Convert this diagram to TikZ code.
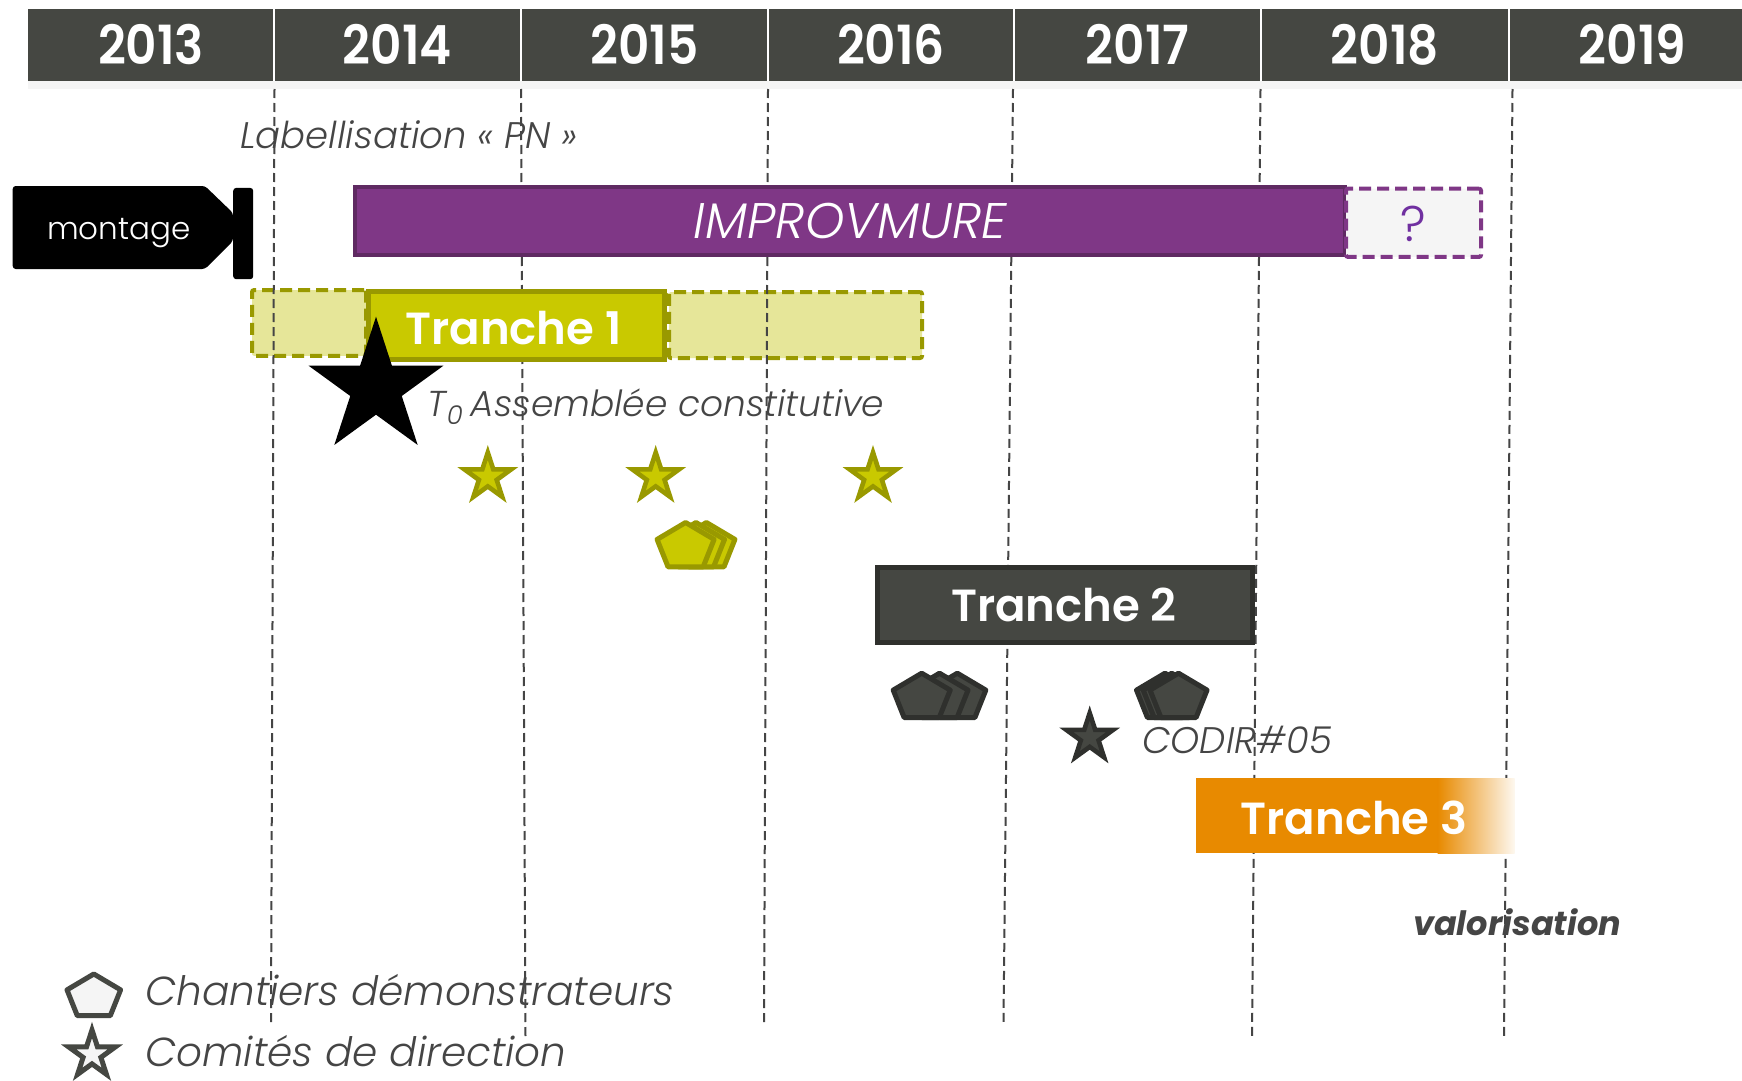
\documentclass[tikz,border=0pt]{standalone}
\usepackage{fontspec}
\setmainfont{Poppins}
\newfontfamily\plight{Poppins Light}
\newfontfamily\plightit{Poppins Light Italic}
\newfontfamily\psemi{Poppins SemiBold}
\newfontfamily\pboldit{Poppins Bold Italic}
\newfontfamily\yearfont{Poppins SemiBold}[FakeStretch=0.9]
\usetikzlibrary{shapes.geometric}
\definecolor{hdr}{HTML}{454742}
\definecolor{txt}{HTML}{454545}
\definecolor{olive}{HTML}{C9C900}
\definecolor{oliveD}{HTML}{999900}
\definecolor{oliveL}{HTML}{E6E699}
\definecolor{purp}{HTML}{7F3786}
\definecolor{purpD}{HTML}{5F2A62}
\definecolor{purpQ}{HTML}{7030A0}
\definecolor{darkF}{HTML}{454742}
\definecolor{darkD}{HTML}{2F302D}
\definecolor{orng}{HTML}{E88A00}
\definecolor{lgray}{HTML}{F5F5F5}
\newcommand\myfs[1]{\fontsize{#1}{#1}\selectfont}
\tikzset{
  gridline/.style={draw=txt, line width=2, dash pattern=on 9pt off 5pt},
  yearlbl/.style={text=white, font=\yearfont\myfs{54}, anchor=base, inner sep=0},
  gtext/.style={text=txt, font=\plightit\myfs{37}, anchor=base west, inner sep=0},
  trlbl/.style={text=white, font=\psemi\myfs{45}, anchor=base, inner sep=0},
  lightbox/.style={draw=oliveD, fill=oliveL, line width=4, dash pattern=on 12pt off 6pt, rounded corners=2, inner sep=0},
  cstar/.style={star, star points=5, star point ratio=2.618, inner sep=0, minimum size=49, line width=4.6},
  pics/pentagon/.style={code={\draw[pic actions] (0,-24.5) -- (28.5,-7.6) -- (17.6,19.8) -- (-17.6,19.8) -- (-28.5,-7.6) -- cycle;}},
  olivepent/.style={draw=oliveD, fill=olive, line width=5, line join=round},
  darkpent/.style={draw=darkD, fill=darkF, line width=5, line join=round}
}
\begin{document}
\begin{tikzpicture}[x=1pt,y=-1pt]
\useasboundingbox (0,0) rectangle (1742,1081);
\fill[white] (0,0) rectangle (1742,1081);

% header
\fill[hdr] (28,9) rectangle (1742,81);
\fill[lgray] (28,81) rectangle (1742,89);
\foreach \x in {274,521,768,1014,1261,1509} \draw[white, line width=2.5] (\x,9) -- (\x,81);
\node[yearlbl] (y2013) at (151,65) {2013};
\node[yearlbl] (y2014) at (397.5,65) {2014};
\node[yearlbl] (y2015) at (644.5,65) {2015};
\node[yearlbl] (y2016) at (891,65) {2016};
\node[yearlbl] (y2017) at (1137.5,65) {2017};
\node[yearlbl] (y2018) at (1385,65) {2018};
\node[yearlbl] (y2019) at (1632.5,65) {2019};

% light dashed boxes of Tranche 1
\node[lightbox, minimum width=114, minimum height=65.7] (t1pre) at (309,322.9) {};
\node[lightbox, minimum width=253, minimum height=66] (t1post) at (795.5,325) {};

% gray texts
\node[gtext] (label) at (240,148.3) {Labellisation «~PN~»};
\node[gtext, font=\plightit\myfs{36}] (t0) at (427,416.7) {T\kern1pt\raisebox{-8pt}{\myfs{26}0}\kern8pt Assemblée constitutive};
\node[gtext] (codir) at (1142,753.3) {CODIR\#05};
\node[text=txt, font=\pboldit\myfs{33.5}, anchor=base west, inner sep=0] (valo) at (1413,935) {valorisation};
\node[gtext, font=\plightit\myfs{40.5}] (leg1) at (145,1005) {Chantiers démonstrateurs};
\node[gtext, font=\plightit\myfs{40.5}] (leg2) at (145,1066) {Comités de direction};

% dashed year lines
\coordinate (g1t) at (274.5,89);  \coordinate (g1b) at (271,1022);
\coordinate (g2t) at (521,89);    \coordinate (g2b) at (525.5,1037);
\coordinate (g3t) at (768,89);    \coordinate (g3b) at (764,1022);
\coordinate (g4t) at (1013,89);   \coordinate (g4b) at (1003.5,1022);
\coordinate (g5t) at (1260.5,89); \coordinate (g5b) at (1252,1039);
\coordinate (g6t) at (1512.5,89); \coordinate (g6b) at (1504,1038);
\foreach \i in {1,...,6} \draw[gridline] (g\i t) -- (g\i b);

% IMPROVMURE
\node[draw=purpD, fill=purp, line width=4, minimum width=990, minimum height=68, inner sep=0] (impbox) at (849.7,221.3) {};
\node[text=white, font=\plightit\myfs{50}, anchor=base, inner sep=0] (imp) at (850.5,238) {IMPROVMURE};
\node[draw=purp, fill=lgray, line width=4, dash pattern=on 12pt off 6pt, rounded corners=2, minimum width=135, minimum height=68.3, inner sep=0] (qbox) at (1413.5,222.8) {};
\node[text=purpQ, font=\plight\myfs{50}, anchor=base, inner sep=0] (q) at (1413,241.7) {?};

% montage
\fill[black, rounded corners=3] (12.7,186) -- (205,186) -- (233,213) -- (233,241) -- (205,269) -- (12.7,269) -- cycle;
\node[fill=black, rounded corners=3, minimum width=20, minimum height=91.3, anchor=north west, inner sep=0] (mbar) at (233,187.7) {};
\node[text=white, font=\plight\myfs{31}, anchor=base, inner sep=0] (montage) at (119,239) {montage};

% Tranche 1
\node[draw=oliveD, fill=olive, line width=5, minimum width=296, minimum height=67.7, inner sep=0] (t1box) at (516.5,325.3) {};
\node[trlbl] (t1) at (513.5,344) {Tranche 1};
\node[star, star points=5, star point ratio=2.618, inner sep=0, minimum size=141.8, fill=black] (bigstar) at (376,387.6) {};

% olive committee stars
\node[cstar, draw=oliveD, fill=olive] (s1) at (487.8,477) {};
\node[cstar, draw=oliveD, fill=olive] (s2) at (655.7,477) {};
\node[cstar, draw=oliveD, fill=olive] (s3) at (873,477) {};

% olive demonstrator sites
\pic[olivepent] (op3) at (706.4,547) {pentagon};
\pic[olivepent] (op2) at (696,547) {pentagon};
\pic[olivepent] (op1) at (685.6,547) {pentagon};

% Tranche 2
\node[draw=darkD, fill=darkF, line width=5, minimum width=375.5, minimum height=75, inner sep=0] (t2box) at (1064.75,605) {};
\node[trlbl] (t2) at (1064,621.5) {Tranche 2};

% dark demonstrator sites
\pic[darkpent] (dp3) at (957.3,697.7) {pentagon};
\pic[darkpent] (dp2) at (939.5,697.7) {pentagon};
\pic[darkpent] (dp1) at (921.7,697.7) {pentagon};
\pic[darkpent] (dq1) at (1165,697.7) {pentagon};
\pic[darkpent] (dq2) at (1171.7,697.7) {pentagon};
\pic[darkpent] (dq3) at (1178.5,697.7) {pentagon};

% CODIR star
\node[cstar, draw=darkD, fill=darkF] (s4) at (1089.7,737.5) {};

% Tranche 3
\node[fill=orng, minimum width=242, minimum height=75, anchor=north west, inner sep=0] (t3box) at (1196,778) {};
\node[left color=orng, right color=orng!6, minimum width=77, minimum height=75, anchor=north west, inner sep=0] (t3fade) at (1437.5,778) {};
\node[trlbl] (t3) at (1354,834) {Tranche 3};

% legend symbols
\pic[draw=hdr, fill=lgray, line width=5, line join=round, scale=0.94] (lp) at (93.8,997) {pentagon};
\node[cstar, draw=hdr, fill=lgray, line width=5] (ls) at (92,1054.5) {};
\end{tikzpicture}
\end{document}
